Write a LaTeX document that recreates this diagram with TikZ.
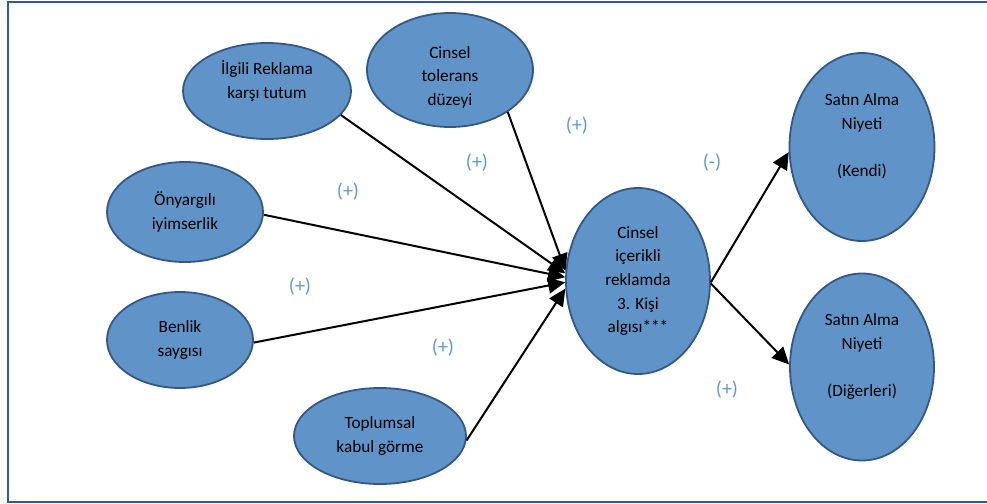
\documentclass[tikz,border=0pt]{standalone}
\usepackage{fontspec}
\setmainfont{Carlito}
\usepackage{tikz}
\usetikzlibrary{arrows.meta}
\usetikzlibrary{shapes}
\definecolor{construct-blue}{RGB}{96,148,200}
\definecolor{construct-line}{RGB}{52,88,132}
\definecolor{sign-blue}{RGB}{95,152,212}
\definecolor{frame-blue}{RGB}{46,92,147}
\tikzstyle{construct}=[ellipse, draw=construct-line, fill=construct-blue, line width=.9pt, inner sep=0pt, align=center, font=\fontsize{8.6}{11.8}\selectfont]
\tikzstyle{sign}=[text=sign-blue, font=\fontsize{10}{12}\selectfont]
\tikzstyle{effect}=[line width=1pt, -{Triangle[length=8.5pt, width=8pt]}]
\tikzstyle{outerframe}=[draw=frame-blue, line width=1.3pt]

\begin{document}
\begin{tikzpicture}[x=.5pt, y=-.5pt]
	\useasboundingbox (0,0) rectangle (987,504);
	\draw[outerframe] (987,2) -- (8,2) -- (8,502) -- (987,502);
	\node[construct, minimum width=84pt, minimum height=48pt] (ilg) at (267,91) {İlgili Reklama\\karşı tutum\\~};
	\node[construct, minimum width=83pt, minimum height=57pt] (tol) at (450,70) {\rule{0pt}{13pt}Cinsel\\tolerans\\düzeyi};
	\node[construct, minimum width=78pt, minimum height=50pt] (oyi) at (185,212) {Önyargılı\\iyimserlik};
	\node[construct, minimum width=73pt, minimum height=48pt] (ben) at (180,340) {Benlik\\saygısı};
	\node[construct, minimum width=86pt, minimum height=48pt] (top) at (380,436) {Toplumsal\\kabul görme};
	\node[construct, minimum width=72pt, minimum height=93pt] (cen) at (638,281) {Cinsel\\içerikli\\reklamda\\3. Kişi\\algısı***};
	\node[construct, minimum width=72.5pt, minimum height=94pt] (ken) at (862,147) {Satın Alma\\Niyeti\\~\\(Kendi)\\~};
	\node[construct, minimum width=72pt, minimum height=93.5pt] (dig) at (862,367) {Satın Alma\\Niyeti\\~\\(Diğerleri)\\~};
	\draw[effect] (ilg.-18) -- (cen.174);
	\draw[effect] (tol.-36) -- (cen.172);
	\draw[effect] (oyi.-2) -- (cen.177);
	\draw[effect] (ben.-2) -- (cen.181);
	\draw[effect] (top.-3) -- (cen.186);
	\draw[effect] (cen.-1) -- (ken.184);
	\draw[effect] (cen.-2) -- (dig.178);
	\node[sign] (silg) at (477,163) {(+)};
	\node[sign] (soyi) at (348,192) {(+)};
	\node[sign] (stol) at (577,126) {(+)};
	\node[sign] (sben) at (300,287) {(+)};
	\node[sign] (stop) at (443,348) {(+)};
	\node[sign] (sken) at (712,163) {(-)};
	\node[sign] (sdig) at (727,390) {(+)};
\end{tikzpicture}
\end{document}
